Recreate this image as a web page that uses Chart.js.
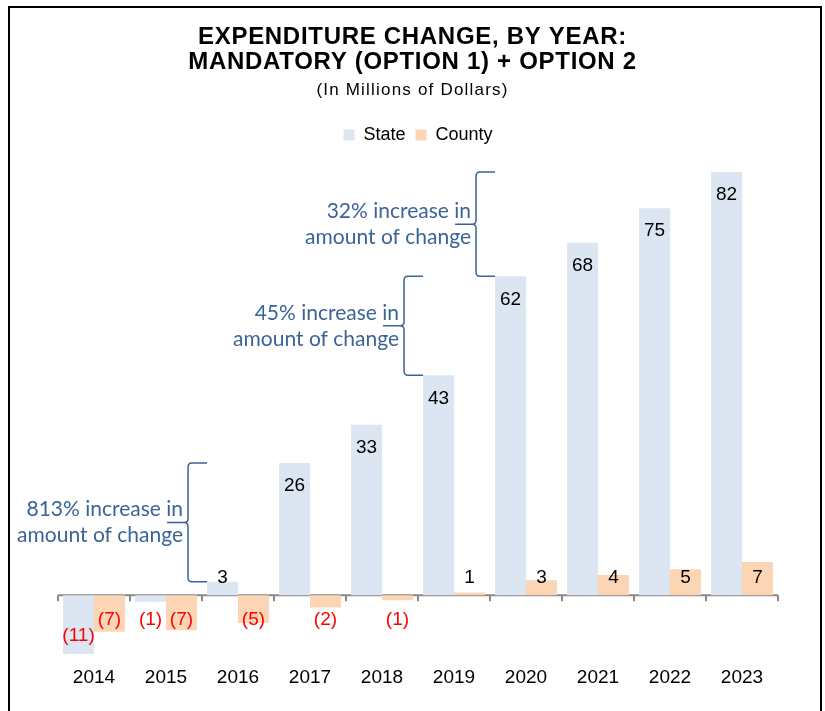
<!DOCTYPE html>
<html>
<head>
<meta charset="utf-8">
<script src="https://cdn.jsdelivr.net/npm/chart.js@4.4.1/dist/chart.umd.min.js"></script>
<style>
  html, body { margin: 0; padding: 0; background: #fff; overflow: hidden; }
  #frame { position: absolute; left: 8px; top: 6px; width: 814px; height: 760px; border: 2px solid #000; box-sizing: border-box; }
  #mychart { position: absolute; left: 0; top: 0; }
</style>
</head>
<body>
<div id="frame"></div>
<canvas id="mychart" width="825" height="711"></canvas>
<script>
// chart data
const years = ['2014', '2015', '2016', '2017', '2018', '2019', '2020', '2021', '2022', '2023']
const stateValues = [-11.4, -1.3, 2.6, 25.6, 33.0, 42.6, 61.8, 68.3, 75.0, 82.0]
const countyValues = [-7.1, -6.8, -5.4, -2.4, -1.0, 0.5, 2.9, 3.9, 5.0, 6.4]
const stateLabels = ['(11)', '(1)', '3', '26', '33', '43', '62', '68', '75', '82']
const countyLabels = ['(7)', '(7)', '(5)', '(2)', '(1)', '1', '3', '4', '5', '7']

const titleLines = ['EXPENDITURE CHANGE, BY YEAR:', 'MANDATORY (OPTION 1) + OPTION 2']
const subtitle = '(In Millions of Dollars)'

// brace notes: span state bar tops from index "from" to index "to", pinned at bar "at"
const notes = [
    { lines: ['813% increase in', 'amount of change'], from: 2, to: 3, at: 2 },
    { lines: ['45% increase in', 'amount of change'], from: 5, to: 6, at: 5 },
    { lines: ['32% increase in', 'amount of change'], from: 6, to: 9, at: 6 }
]

const sans = "'Liberation Sans', Arial, sans-serif"
const noteBlue = '#3b6496'

// title + subtitle
const headerPlugin = {
    id: 'header',
    afterDraw(chart) {
        const ctx = chart.ctx
        const cx = chart.width / 2
        ctx.save()
        ctx.fillStyle = '#000'
        ctx.textAlign = 'center'
        ctx.textBaseline = 'middle'
        ctx.font = 'bold 24px ' + sans
        if ('letterSpacing' in ctx) ctx.letterSpacing = '0.7px'
        ctx.fillText(titleLines[0], cx, 37)
        ctx.fillText(titleLines[1], cx, 62)
        ctx.font = '17px ' + sans
        if ('letterSpacing' in ctx) ctx.letterSpacing = '1.2px'
        ctx.fillText(subtitle, cx, 90)
        ctx.restore()
    }
}

// zero line with tick marks between the years
const zeroAxisPlugin = {
    id: 'zeroAxis',
    beforeDatasetsDraw(chart) {
        const ctx = chart.ctx
        const x = chart.scales.x
        const y0 = chart.scales.y.getPixelForValue(0)
        const half = (x.getPixelForValue(1) - x.getPixelForValue(0)) / 2
        ctx.save()
        ctx.strokeStyle = '#898989'
        ctx.lineWidth = 2
        ctx.beginPath()
        ctx.moveTo(chart.chartArea.left, y0)
        ctx.lineTo(chart.chartArea.right, y0)
        for (let i = 0; i <= years.length; i++) {
            const px = x.getPixelForValue(i) - half
            ctx.moveTo(px, y0)
            ctx.lineTo(px, y0 + 6)
        }
        ctx.stroke()
        ctx.restore()
    }
}

// value labels on the bars
const barLabelPlugin = {
    id: 'barLabels',
    afterDatasetsDraw(chart) {
        const ctx = chart.ctx
        const y0 = chart.scales.y.getPixelForValue(0)
        const texts = [stateLabels, countyLabels]
        ctx.save()
        ctx.font = '19px ' + sans
        ctx.textAlign = 'center'
        ctx.textBaseline = 'middle'
        chart.data.datasets.forEach((ds, d) => {
            chart.getDatasetMeta(d).data.forEach((bar, i) => {
                const v = ds.data[i]
                let ty
                if (v >= 0) {
                    ty = Math.min(bar.y + 23, y0 - 17)
                    ctx.fillStyle = '#000'
                } else {
                    ty = Math.max(bar.y - 18, y0 + 25)
                    ctx.fillStyle = '#ff0000'
                }
                ctx.fillText(texts[d][i], bar.x, ty)
            })
        })
        ctx.restore()
    }
}

// curly braces with notes
const bracePlugin = {
    id: 'braces',
    afterDatasetsDraw(chart) {
        const ctx = chart.ctx
        const y = chart.scales.y
        const bars = chart.getDatasetMeta(0).data
        ctx.save()
        ctx.strokeStyle = noteBlue
        ctx.fillStyle = noteBlue
        ctx.lineWidth = 1.5
        notes.forEach(n => {
            const tip = bars[n.at].x - bars[n.at].width / 2
            const v = tip - 19
            const top = y.getPixelForValue(stateValues[n.to])
            const bot = y.getPixelForValue(stateValues[n.from])
            const mid = (top + bot) / 2
            const r = 4
            ctx.beginPath()
            ctx.moveTo(tip, top)
            ctx.lineTo(v + r, top)
            ctx.quadraticCurveTo(v, top, v, top + r)
            ctx.lineTo(v, mid - r)
            ctx.quadraticCurveTo(v, mid, v - r, mid)
            ctx.quadraticCurveTo(v, mid, v, mid + r)
            ctx.lineTo(v, bot - r)
            ctx.quadraticCurveTo(v, bot, v + r, bot)
            ctx.lineTo(tip, bot)
            ctx.moveTo(v - r, mid)
            ctx.lineTo(v - 21, mid)
            ctx.stroke()

            ctx.font = '21px Lato, Carlito, Calibri, sans-serif'
            ctx.textAlign = 'right'
            ctx.textBaseline = 'middle'
            ctx.fillText(n.lines[0], v - 5, mid - 13)
            ctx.fillText(n.lines[1], v - 5, mid + 13)
        })
        ctx.restore()
    }
}

const ctx = document.getElementById('mychart').getContext('2d')
const chart = new Chart(ctx, {
    type: 'bar',
    data: {
        labels: years,
        datasets: [
            { label: 'State', data: stateValues, backgroundColor: '#dce6f2', categoryPercentage: 0.86, barPercentage: 1 },
            { label: 'County', data: countyValues, backgroundColor: '#fcd5b5', categoryPercentage: 0.86, barPercentage: 1 }
        ]
    },
    options: {
        responsive: false,
        animation: false,
        devicePixelRatio: 1,
        layout: { padding: { top: 116, left: 58, right: 47, bottom: 18 } },
        plugins: {
            title: { display: false },
            tooltip: { enabled: false },
            legend: {
                display: true,
                position: 'top',
                labels: {
                    boxWidth: 11,
                    boxHeight: 11,
                    padding: 10,
                    color: '#000',
                    font: { family: sans, size: 18 }
                }
            }
        },
        scales: {
            x: {
                grid: { display: false, drawTicks: false },
                border: { display: false },
                ticks: { color: '#000', padding: 4, font: { family: sans, size: 19 } }
            },
            y: {
                display: false,
                min: -13,
                max: 85.5
            }
        }
    },
    plugins: [headerPlugin, zeroAxisPlugin, barLabelPlugin, bracePlugin]
})
</script>
</body>
</html>
